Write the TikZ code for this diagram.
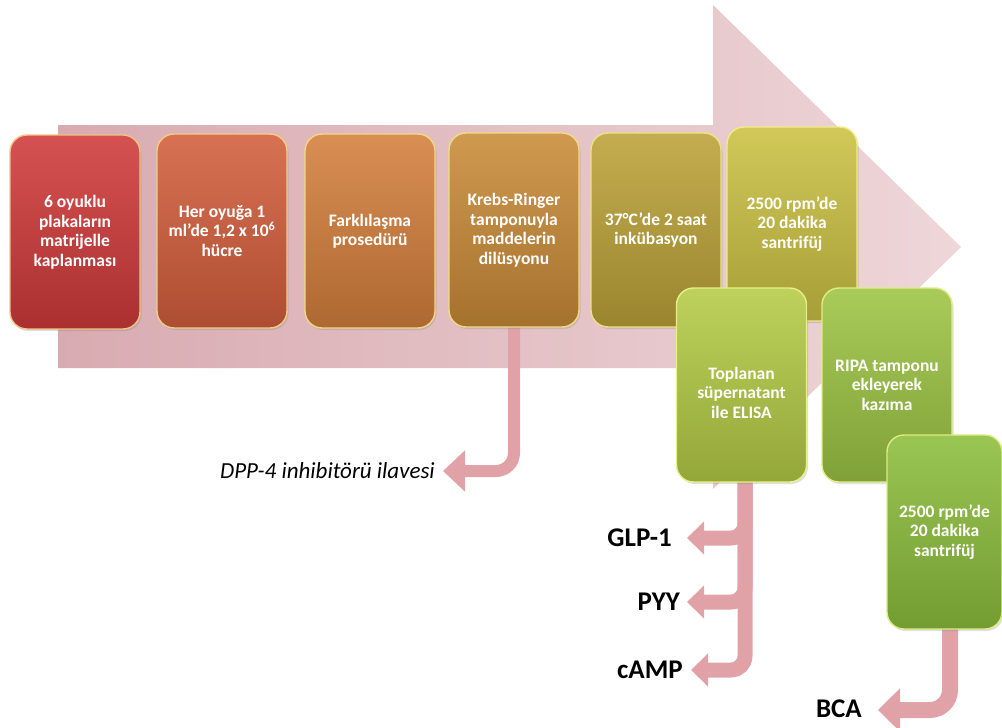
\documentclass[tikz,border=0pt]{standalone}
\usepackage{fontspec}
\setmainfont{Carlito}
\usetikzlibrary{arrows.meta,shadows}
\definecolor{arrowbgL}{HTML}{D8ABB1}
\definecolor{arrowbgR}{HTML}{EED6D9}
\definecolor{conn}{HTML}{E0A2A6}
\definecolor{cA}{HTML}{D03A3A}
\definecolor{cB}{HTML}{D35E3C}
\definecolor{cC}{HTML}{D47F3C}
\definecolor{cD}{HTML}{C98B38}
\definecolor{cE}{HTML}{BCA238}
\definecolor{cF}{HTML}{CBC143}
\definecolor{cG}{HTML}{B4CB45}
\definecolor{cH}{HTML}{9CC443}
\definecolor{cI}{HTML}{8CBE3C}
\tikzset{
  stepbox/.style={rounded corners=17pt, top color=#1!88!white, bottom color=#1!82!black,
    draw=#1!55!yellow!55!white, line width=1.4pt, text=white,
    font=\fontsize{17.5}{19.5}\selectfont\bfseries, align=center,
    minimum width=130pt, minimum height=194pt, inner sep=2pt,
    drop shadow={opacity=0.25, shadow xshift=1.5pt, shadow yshift=-2pt}},
  connarrow/.style={draw=conn, line width=#1, rounded corners=18pt},
  outlabel/.style={font=\fontsize{27}{30}\selectfont\bfseries, anchor=east, inner sep=0pt},
}
\begin{document}
\begin{tikzpicture}[x=1pt,y=-1pt]
\useasboundingbox (0,0) rectangle (1002,728);
% big background arrow
\shade[left color=arrowbgL, right color=arrowbgR]
  (58,125) -- (713,125) -- (713,5) -- (961,247) -- (713,489) -- (713,368) -- (58,368) -- cycle;

% label nodes
\node[font=\fontsize{23}{26}\selectfont\itshape, anchor=east, inner sep=0pt] (dpp) at (435,471) {DPP-4 inhibitörü ilavesi};
\node[outlabel] (glp) at (672,538) {GLP-1};
\node[outlabel] (pyy) at (680,602) {PYY};
\node[outlabel] (camp) at (683,670) {cAMP};
\node[outlabel] (bca) at (862,709) {BCA};

\coordinate (tdpp) at (443,471);
\coordinate (tglp) at (687,538);
\coordinate (tpyy) at (687,602);
\coordinate (tcamp) at (691,670);
\coordinate (tbca) at (878,710);

% top row boxes
\node[stepbox=cA] (b1) at (75,232) {6 oyuklu\\plakaların\\matrijelle\\kaplanması};
\node[stepbox=cB] (b2) at (222,231) {Her oyuğa 1\\ml'de 1,2 x 10\textsuperscript{6}\\hücre};
\node[stepbox=cC] (b3) at (370,231) {Farklılaşma\\prosedürü};

% connector from box 4 (drawn before the box so it starts under it)
\path (514,230) coordinate (b4c);
\draw[connarrow=12pt, -{Triangle[width=40pt,length=22pt]}] (514,300) |- (tdpp);

\node[stepbox=cD] (b4) at (b4c) {Krebs-Ringer\\tamponuyla\\maddelerin\\dilüsyonu};
\node[stepbox=cE] (b5) at (656,230) {37°C'de 2 saat\\inkübasyon};
\node[stepbox=cF] (b6) at (792,224) {2500 rpm’de\\20 dakika\\santrifüj};

% connectors from box 7
\draw[connarrow=15pt, rounded corners=14pt, -{Triangle[width=32pt,length=17pt]}] (745,470) |- (tglp);
\draw[connarrow=15pt, rounded corners=14pt, -{Triangle[width=32pt,length=17pt]}] (745,470) |- (tpyy);
\draw[connarrow=15pt, rounded corners=14pt, -{Triangle[width=32pt,length=17pt]}] (745,470) |- (tcamp);

\node[stepbox=cG] (b7) at (741.5,385) {\\[8pt]Toplanan\\süpernatant\\ile ELISA};
\node[stepbox=cH] (b8) at (887,385) {RIPA tamponu\\ekleyerek\\kazıma};

% connector from box 9
\draw[connarrow=16pt, rounded corners=20pt, -{Triangle[width=42pt,length=22pt]}] (950,600) |- (tbca);

\node[stepbox=cI, minimum width=115pt] (b9) at (944.5,532) {2500 rpm’de\\20 dakika\\santrifüj};
\end{tikzpicture}
\end{document}
